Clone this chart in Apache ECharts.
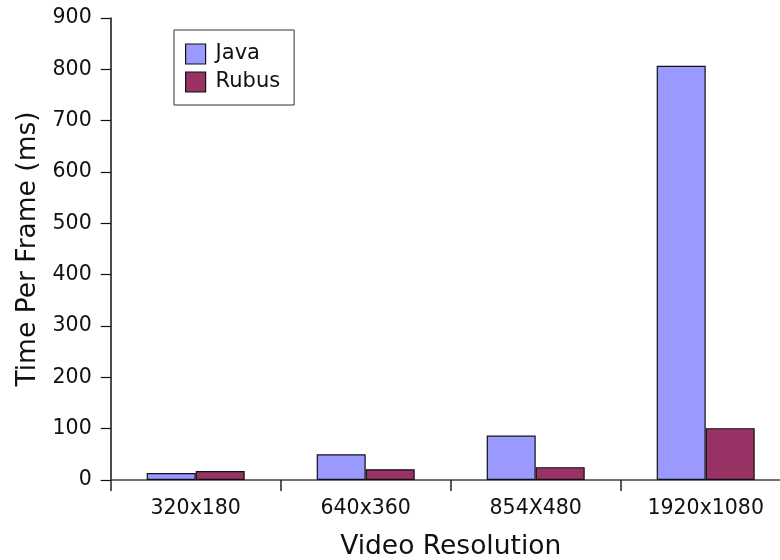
<!DOCTYPE html>
<html>
<head>
<meta charset="utf-8">
<script src="https://cdn.jsdelivr.net/npm/echarts@6/dist/echarts.min.js"></script>
<style>
  html, body { margin: 0; padding: 0; background: #fff; }
  #chart { width: 780px; height: 560px; }
</style>
</head>
<body>
<div id="chart"></div>
<script>
// Per-frame processing time at each video resolution
const resolutions = ['320x180', '640x360', '854X480', '1920x1080'];
const javaTimes = [13.5, 50, 86.5, 807];
const rubusTimes = [17.5, 21, 25, 101];
const yTicks = { min: 0, max: 900, interval: 100 };

const FONT = 'DejaVu Sans';
const chart = echarts.init(document.getElementById('chart'), null, { renderer: 'canvas' });

chart.setOption({
  animation: false,
  backgroundColor: '#ffffff',
  textStyle: { fontFamily: FONT },
  grid: {
    left: 110.7, top: 18, width: 680, height: 462,
    containLabel: false, outerBoundsMode: 'none'
  },
  legend: {
    left: 174, top: 30,
    orient: 'vertical',
    itemWidth: 20, itemHeight: 20, itemGap: 6,
    padding: [13, 14, 12, 11],
    borderColor: '#333', borderWidth: 1,
    backgroundColor: '#fff',
    icon: 'rect',
    itemStyle: { borderColor: '#111', borderWidth: 1.2 },
    textStyle: { fontFamily: FONT, fontSize: 21, lineHeight: 22, color: '#111', padding: [0, 0, 0, 5] },
    data: ['Java', 'Rubus']
  },
  xAxis: {
    type: 'category',
    data: resolutions,
    name: 'Video Resolution',
    nameLocation: 'middle',
    nameGap: 54,
    nameTextStyle: { fontFamily: FONT, fontSize: 26.5, color: '#111' },
    axisLine: { lineStyle: { color: '#444', width: 1.6 } },
    axisTick: { show: true, alignWithLabel: false, length: 11, lineStyle: { color: '#222', width: 1.5 } },
    axisLabel: { fontFamily: FONT, fontSize: 20.5, color: '#111', margin: 18 },
    splitLine: { show: false }
  },
  yAxis: {
    type: 'value',
    min: yTicks.min, max: yTicks.max, interval: yTicks.interval,
    name: 'Time Per Frame (ms)',
    nameLocation: 'middle',
    nameGap: 65,
    nameTextStyle: { fontFamily: FONT, fontSize: 26.5, color: '#111' },
    axisLine: { show: true, lineStyle: { color: '#111', width: 1.5 } },
    axisTick: { show: true, length: 10, lineStyle: { color: '#111', width: 1.2 } },
    axisLabel: { fontFamily: FONT, fontSize: 20.5, color: '#111', margin: 19 },
    splitLine: { show: false }
  },
  series: [
    {
      name: 'Java', type: 'bar', data: javaTimes,
      barWidth: 49, barGap: '0%',
      itemStyle: { color: '#9999ff', borderColor: '#111', borderWidth: 1.2 }
    },
    {
      name: 'Rubus', type: 'bar', data: rubusTimes,
      barWidth: 49, barGap: '0%',
      itemStyle: { color: '#993366', borderColor: '#111', borderWidth: 1.2 }
    }
  ]
});
</script>
</body>
</html>
